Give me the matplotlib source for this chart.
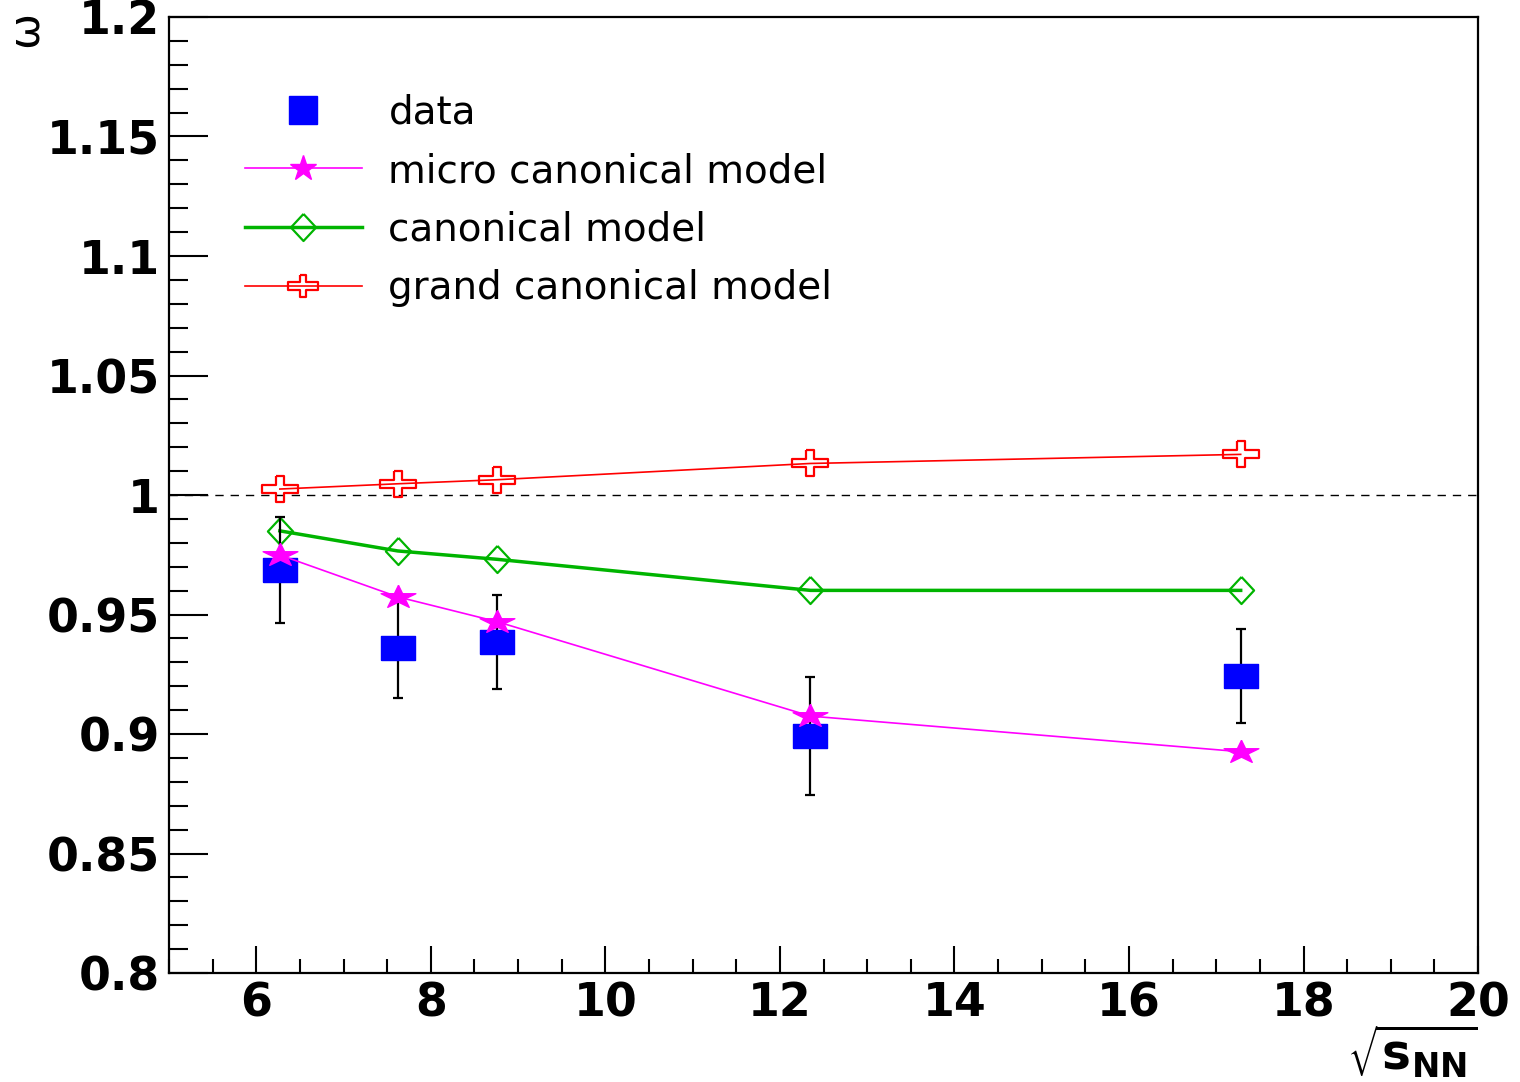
import numpy as np
import matplotlib
matplotlib.use('Agg')
import matplotlib.pyplot as plt
from matplotlib.lines import Line2D
from matplotlib.markers import MarkerStyle
from matplotlib.ticker import MultipleLocator, FixedLocator, FixedFormatter

plt.rcParams['font.family'] = ['DejaVu Sans']
plt.rcParams['mathtext.fontset'] = 'dejavusans'

# collision energies sqrt(s_NN) [GeV]
energy = [6.27, 7.62, 8.76, 12.35, 17.28]

# measured omega with errors
data_w = [0.9686, 0.936, 0.9385, 0.899, 0.9243]
data_err = [0.022, 0.021, 0.0195, 0.0247, 0.0196]

# model curves
micro_w = [0.9749, 0.9574, 0.947, 0.9075, 0.8926]
canon_w = [0.985, 0.9766, 0.9731, 0.9601, 0.9601]
grand_w = [1.0025, 1.0047, 1.0064, 1.0132, 1.0170]

ytick_vals = [0.8, 0.85, 0.9, 0.95, 1.0, 1.05, 1.1, 1.15, 1.2]
ytick_labels = ['0.8', '0.85', '0.9', '0.95', '1', '1.05', '1.1', '1.15', '1.2']

# marker shapes (ROOT markers look stretched on this canvas)
rect = [(-1, -0.71), (1, -0.71), (1, 0.71), (-1, 0.71), (-1, -0.71)]
star_v = MarkerStyle('*').get_path().vertices.copy()
star_v[:, 0] *= 1.5
diamond = [(0, 1), (0.93, 0), (0, -1), (-0.93, 0), (0, 1)]
w, h, a, b = 1.0, 0.73, 0.2, 0.24
cross = [(-a, h), (a, h), (a, b), (w, b), (w, -b), (a, -b), (a, -h), (-a, -h),
         (-a, -b), (-w, -b), (-w, b), (-a, b), (-a, h)]

blue = '#0000ff'
magenta = '#ff00ff'
green = '#00b400'
red = '#ff0000'

fig = plt.figure(figsize=(15.2, 10.82), dpi=100)
ax = fig.add_axes([0.1112, 0.1007, 0.8612, 0.8836])

ax.axhline(1.0, color='black', lw=1.0, ls=(0, (6, 5)), zorder=1)

ax.plot(energy, grand_w, color=red, lw=1.2, marker=cross, ms=26.6,
        mfc='none', mec=red, mew=1.6, zorder=2)
ax.plot(energy, canon_w, color=green, lw=2.5, marker=diamond, ms=19.5,
        mfc='none', mec=green, mew=1.6, zorder=2)
ax.errorbar(energy, data_w, yerr=data_err, fmt='none', ecolor='black',
            elinewidth=1.6, capsize=3.5, capthick=1.6, zorder=3)
ax.plot(energy, data_w, ls='none', marker=rect, ms=25, color=blue,
        mec=blue, zorder=3)
ax.plot(energy, micro_w, color=magenta, lw=1.2, marker=star_v, ms=25,
        mec=magenta, mfc=magenta, zorder=4)

ax.set_xlim(5, 20)
ax.set_ylim(0.8, 1.2)

ax.xaxis.set_major_locator(MultipleLocator(2))
ax.xaxis.set_minor_locator(MultipleLocator(0.5))
ax.yaxis.set_major_locator(FixedLocator(ytick_vals))
ax.yaxis.set_major_formatter(FixedFormatter(ytick_labels))
ax.yaxis.set_minor_locator(MultipleLocator(0.01))

ax.tick_params(axis='x', which='major', direction='in', length=19.4, width=1.5,
               labelsize=33, pad=6, top=False)
ax.tick_params(axis='x', which='minor', direction='in', length=10, width=1.5, top=False)
ax.tick_params(axis='y', which='major', direction='in', length=28, width=1.5,
               labelsize=33, pad=6.5, right=False)
ax.tick_params(axis='y', which='minor', direction='in', length=14, width=1.5, right=False)
for lab in ax.get_xticklabels() + ax.get_yticklabels():
    lab.set_fontweight('bold')
for sp in ax.spines.values():
    sp.set_linewidth(1.6)

ax.set_xlabel(r'$\sqrt{\mathbf{s}_{\mathbf{NN}}}$', fontsize=35, loc='right')
ax.xaxis.set_label_coords(1.0, -0.052)
ax.set_ylabel('ω', fontsize=31, loc='top')
ax.yaxis.set_label_coords(-0.094, 1.006)

handles = [
    Line2D([], [], ls='none', marker='s', ms=20, color=blue),
    Line2D([], [], color=magenta, lw=1.2, marker='*', ms=19, mec=magenta),
    Line2D([], [], color=green, lw=2.5, marker=diamond, ms=19.5, mfc='none',
           mec=green, mew=1.6),
    Line2D([], [], color=red, lw=1.2, marker=cross, ms=21.5, mfc='none',
           mec=red, mew=1.6),
]
labels = ['data', 'micro canonical model', 'canonical model', 'grand canonical model']
ax.legend(handles, labels, loc='upper left', bbox_to_anchor=(0.058, 0.92),
          frameon=False, fontsize=28, handlelength=3.0, handletextpad=0.69,
          labelspacing=0.53, borderpad=0, borderaxespad=0)

plt.savefig('out.png', dpi=100)
